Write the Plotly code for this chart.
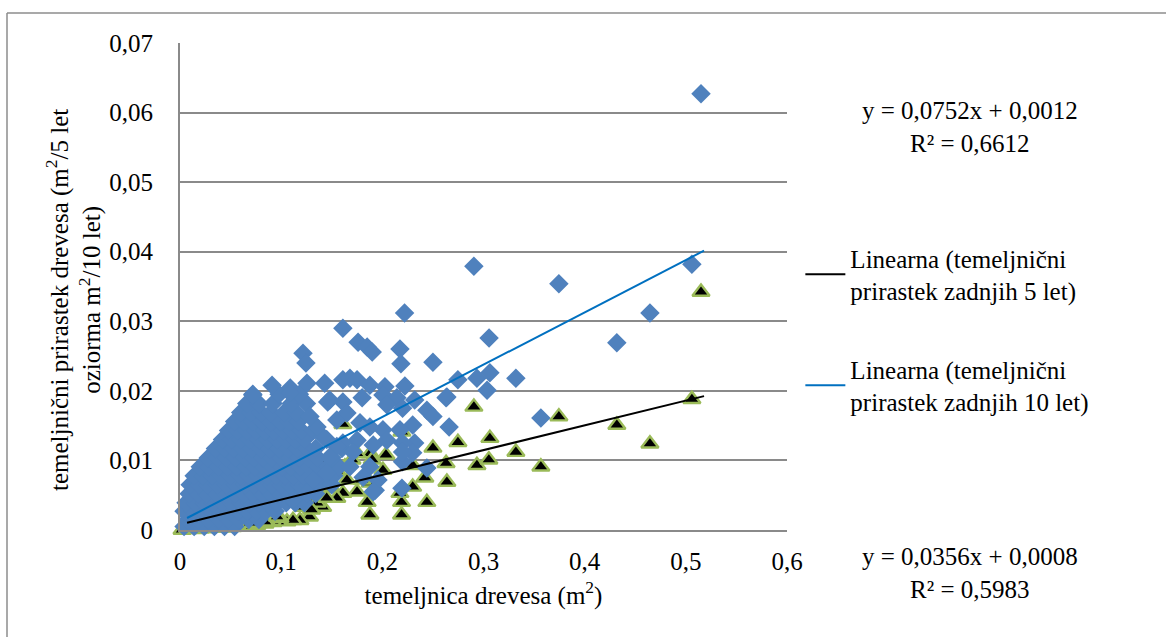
import plotly.graph_objects as go

# ---------------- data ----------------
# 10-year basal area increment (diamonds): basal area (m2) vs increment
x_10 = [
    # dense core rows
    0.004, 0.014, 0.024, 0.034, 0.044, 0.054,
    0.008, 0.018, 0.028, 0.038, 0.048, 0.058, 0.068, 0.078,
    0.004, 0.013, 0.022, 0.031, 0.040, 0.049, 0.058, 0.067, 0.076, 0.085, 0.094,
    0.006, 0.015, 0.024, 0.033, 0.042, 0.051, 0.060, 0.069, 0.078, 0.087, 0.096, 0.105, 0.114, 0.123,
    0.009, 0.018, 0.027, 0.036, 0.045, 0.054, 0.063, 0.072, 0.081, 0.090, 0.099, 0.108, 0.117, 0.134,
    0.010, 0.019, 0.028, 0.037, 0.046, 0.055, 0.064, 0.073, 0.082, 0.091, 0.100, 0.109, 0.118, 0.127, 0.138, 0.150,
    0.014, 0.023, 0.032, 0.041, 0.050, 0.059, 0.068, 0.077, 0.086, 0.095, 0.104, 0.113, 0.122, 0.138, 0.152,
    0.020, 0.029, 0.038, 0.047, 0.056, 0.065, 0.074, 0.083, 0.092, 0.101, 0.110, 0.119, 0.128, 0.137, 0.146, 0.157,
    0.028, 0.037, 0.046, 0.055, 0.064, 0.073, 0.082, 0.091, 0.100, 0.109, 0.118, 0.127, 0.136, 0.150,
    0.035, 0.044, 0.053, 0.062, 0.071, 0.080, 0.089, 0.098, 0.107, 0.116, 0.125, 0.134, 0.160,
    0.042, 0.051, 0.060, 0.069, 0.078, 0.087, 0.096, 0.105, 0.114, 0.123, 0.145,
    0.048, 0.057, 0.066, 0.075, 0.084, 0.093, 0.102, 0.111, 0.120, 0.132,
    0.054, 0.063, 0.072, 0.081, 0.090, 0.099, 0.108, 0.117,
    0.060, 0.070, 0.080, 0.090, 0.103, 0.115,
    0.066, 0.078, 0.092, 0.110, 0.125,
    0.072, 0.098, 0.118,
    # scattered points
    0.515, 0.2905, 0.3745, 0.506, 0.222, 0.4645, 0.4318, 0.3055, 0.161, 0.176,
    0.185, 0.190, 0.2174, 0.2184, 0.250, 0.1216, 0.1245, 0.2747, 0.3063, 0.2935,
    0.3035, 0.332, 0.3567, 0.091, 0.109, 0.1087, 0.1255, 0.143, 0.161, 0.168,
    0.175, 0.1877, 0.2026, 0.2223, 0.148, 0.161, 0.180, 0.2006, 0.2144, 0.232,
    0.263, 0.244, 0.250, 0.266, 0.230, 0.2174, 0.2006, 0.1877, 0.1779, 0.2045,
    0.220, 0.232, 0.220, 0.2045, 0.191, 0.175, 0.161, 0.220, 0.230, 0.244,
    0.2194, 0.193, 0.1877, 0.171, 0.155, 0.1413, 0.1354, 0.1285, 0.155, 0.165,
    0.148, 0.145, 0.1314, 0.1255, 0.1117, 0.168, 0.181, 0.1957, 0.2638, 0.191,
    0.220, 0.072, 0.146,
]
y_10 = [
    0.0005, 0.0005, 0.0005, 0.0005, 0.0005, 0.0005,
    0.0015, 0.0015, 0.0015, 0.0015, 0.0015, 0.0015, 0.0015, 0.0015,
    0.0027, 0.0027, 0.0027, 0.0027, 0.0027, 0.0027, 0.0027, 0.0027, 0.0027, 0.0027, 0.0027,
    0.0039, 0.0039, 0.0039, 0.0039, 0.0039, 0.0039, 0.0039, 0.0039, 0.0039, 0.0039, 0.0039, 0.0039, 0.0039, 0.0039,
    0.0052, 0.0052, 0.0052, 0.0052, 0.0052, 0.0052, 0.0052, 0.0052, 0.0052, 0.0052, 0.0052, 0.0052, 0.0052, 0.0052,
    0.0065, 0.0065, 0.0065, 0.0065, 0.0065, 0.0065, 0.0065, 0.0065, 0.0065, 0.0065, 0.0065, 0.0065, 0.0065, 0.0065, 0.0065, 0.0065,
    0.0078, 0.0078, 0.0078, 0.0078, 0.0078, 0.0078, 0.0078, 0.0078, 0.0078, 0.0078, 0.0078, 0.0078, 0.0078, 0.0078, 0.0078,
    0.0091, 0.0091, 0.0091, 0.0091, 0.0091, 0.0091, 0.0091, 0.0091, 0.0091, 0.0091, 0.0091, 0.0091, 0.0091, 0.0091, 0.0091, 0.0091,
    0.0104, 0.0104, 0.0104, 0.0104, 0.0104, 0.0104, 0.0104, 0.0104, 0.0104, 0.0104, 0.0104, 0.0104, 0.0104, 0.0104,
    0.0117, 0.0117, 0.0117, 0.0117, 0.0117, 0.0117, 0.0117, 0.0117, 0.0117, 0.0117, 0.0117, 0.0117, 0.0117,
    0.0130, 0.0130, 0.0130, 0.0130, 0.0130, 0.0130, 0.0130, 0.0130, 0.0130, 0.0130, 0.0130,
    0.0143, 0.0143, 0.0143, 0.0143, 0.0143, 0.0143, 0.0143, 0.0143, 0.0143, 0.0143,
    0.0156, 0.0156, 0.0156, 0.0156, 0.0156, 0.0156, 0.0156, 0.0156,
    0.0169, 0.0169, 0.0169, 0.0169, 0.0169, 0.0169,
    0.0182, 0.0182, 0.0182, 0.0182, 0.0182,
    0.0195, 0.0195, 0.0195,
    0.0627, 0.0379, 0.0354, 0.0382, 0.0312, 0.0312, 0.0269, 0.0276, 0.0290, 0.0270,
    0.0263, 0.0256, 0.0260, 0.0239, 0.0241, 0.0254, 0.0240, 0.0216, 0.0226, 0.0218,
    0.0201, 0.0218, 0.0161, 0.0208, 0.0204, 0.0197, 0.0211, 0.0211, 0.0216, 0.0218,
    0.0216, 0.0208, 0.0206, 0.0207, 0.0187, 0.0184, 0.0190, 0.0194, 0.0190, 0.0187,
    0.0190, 0.0172, 0.0163, 0.0148, 0.0151, 0.0144, 0.0144, 0.0148, 0.0154, 0.0180,
    0.0175, 0.0125, 0.0125, 0.0129, 0.0122, 0.0129, 0.0125, 0.0098, 0.0111, 0.0089,
    0.0060, 0.0057, 0.0091, 0.0112, 0.0120, 0.0134, 0.0148, 0.0163, 0.0158, 0.0168,
    0.0105, 0.0082, 0.0072, 0.0053, 0.0043, 0.0091, 0.0076, 0.0072, 0.0191, 0.0055,
    0.0112, 0.0194, 0.0184,
]

# 5-year basal area increment (triangles)
x_5 = [
    0.002, 0.008, 0.014, 0.020, 0.028, 0.036, 0.044, 0.052, 0.060, 0.068,
    0.076, 0.084, 0.092, 0.100, 0.030, 0.050, 0.070, 0.090, 0.110, 0.115,
    0.120, 0.130, 0.135, 0.150, 0.145, 0.155,
    0.515, 0.506, 0.4318, 0.4645, 0.2905, 0.3745, 0.3063, 0.2935, 0.3053, 0.332,
    0.3567, 0.2747, 0.250, 0.263, 0.2036, 0.2194, 0.161, 0.230, 0.242, 0.2638,
    0.244, 0.219, 0.219, 0.1877, 0.2006, 0.230, 0.165, 0.185, 0.175, 0.141,
    0.128, 0.1186, 0.1057, 0.188, 0.175, 0.163, 0.188, 0.161, 0.1117, 0.0988,
    0.084, 0.069, 0.056, 0.040, 0.023, 0.170, 0.190, 0.180, 0.1354, 0.155,
    0.1215, 0.096, 0.130, 0.145, 0.2174, 0.074,
]
y_5 = [
    0.0000, 0.0001, 0.0001, 0.0002, 0.0002, 0.0003, 0.0003, 0.0004, 0.0005, 0.0006,
    0.0007, 0.0009, 0.0011, 0.0013, 0.0015, 0.0020, 0.0030, 0.0040, 0.0055, 0.0090,
    0.0070, 0.0085, 0.0045, 0.0060, 0.0100, 0.0085,
    0.0342, 0.0188, 0.0151, 0.0124, 0.0177, 0.0163, 0.0132, 0.0093, 0.0101, 0.0112,
    0.0091, 0.0126, 0.0118, 0.0096, 0.0108, 0.0141, 0.0152, 0.0093, 0.0075, 0.0069,
    0.0040, 0.0040, 0.0022, 0.0022, 0.0086, 0.0062, 0.0072, 0.0040, 0.0055, 0.0033,
    0.0019, 0.0014, 0.0012, 0.0110, 0.0110, 0.0091, 0.0068, 0.0053, 0.0014, 0.0017,
    0.0012, 0.0010, 0.0007, 0.0004, 0.0004, 0.0101, 0.0101, 0.0072, 0.0039, 0.0046,
    0.0033, 0.0019, 0.0029, 0.0046, 0.0053, 0.0010,
]

# Linear trend lines (from the equations shown on the chart)
trend_x_range = [0.007, 0.518]
slope_5, icept_5, r2_5 = 0.0356, 0.0008, "0,5983"
slope_10, icept_10, r2_10 = 0.0752, 0.0012, "0,6612"

x_ticks = [0, 0.1, 0.2, 0.3, 0.4, 0.5, 0.6]
x_ticktext = ["0", "0,1", "0,2", "0,3", "0,4", "0,5", "0,6"]
y_ticks = [0, 0.01, 0.02, 0.03, 0.04, 0.05, 0.06, 0.07]
y_ticktext = ["0", "0,01", "0,02", "0,03", "0,04", "0,05", "0,06", "0,07"]

# ---------------- figure ----------------
FONT = "Liberation Serif"
FS = 25
GRID = "#8a8a8a"
TXT = dict(family=FONT, size=FS, color="black")

fig = go.Figure()

fig.add_trace(go.Scatter(
    x=x_5, y=y_5, mode="markers", showlegend=False,
    name="temeljnični prirastek zadnjih 5 let",
    marker=dict(symbol="triangle-up", size=15, color="black",
                line=dict(color="#9BBB59", width=2.4)),
    cliponaxis=False,
))
fig.add_trace(go.Scatter(
    x=x_10, y=y_10, mode="markers", showlegend=False,
    name="temeljnični prirastek zadnjih 10 let",
    marker=dict(symbol="diamond", size=15, color="#4F81BD", line=dict(width=0)),
    cliponaxis=False,
))

tx = trend_x_range
fig.add_trace(go.Scatter(
    x=tx, y=[slope_5 * v + icept_5 for v in tx], mode="lines",
    name="Linearna (temeljnični<br>prirastek zadnjih 5 let)",
    line=dict(color="black", width=2), legendgroup="a",
))
fig.add_trace(go.Scatter(
    x=tx, y=[slope_10 * v + icept_10 for v in tx], mode="lines",
    name="Linearna (temeljnični<br>prirastek zadnjih 10 let)",
    line=dict(color="#0070C0", width=2), legendgroup="b",
))

L, R, T, B = 180, 1166 - 787, 43, 637 - 530
PW, PH = 607, 487
fig.update_layout(
    width=1166, height=637,
    margin=dict(l=L, r=R, t=T, b=B),
    paper_bgcolor="white", plot_bgcolor="white",
    font=TXT,
    showlegend=True,
    legend=dict(x=1.022, y=0.605, xanchor="left", yanchor="top",
                font=TXT, bgcolor="rgba(0,0,0,0)", tracegroupgap=43,
                itemwidth=40),
    xaxis=dict(range=[0, 0.6], tickvals=x_ticks, ticktext=x_ticktext,
               showgrid=False, zeroline=False, showline=True,
               linecolor=GRID, linewidth=2, ticks="",
               tickfont=TXT, ticklabelstandoff=8,
               title=dict(text="temeljnica drevesa (m<sup>2</sup>)",
                          font=TXT, standoff=12)),
    yaxis=dict(range=[0, 0.07], tickvals=y_ticks, ticktext=y_ticktext,
               showgrid=True, gridcolor=GRID, gridwidth=2, zeroline=False,
               showline=True, linecolor=GRID, linewidth=2, ticks="",
               tickfont=TXT, ticklabelstandoff=20),
    shapes=[
        dict(type="line", xref="paper", yref="paper",
             x0=(7 - L) / PW, x1=(1170 - L) / PW,
             y0=(530 - 13) / PH, y1=(530 - 13) / PH,
             line=dict(color="#8c8c8c", width=1.5)),
        dict(type="line", xref="paper", yref="paper",
             x0=(7 - L) / PW, x1=(7 - L) / PW,
             y0=(530 - 13) / PH, y1=(530 - 640) / PH,
             line=dict(color="#8c8c8c", width=1.5)),
    ],
    annotations=[
        dict(xref="paper", yref="paper", x=(73 - L) / PW, y=(530 - 300) / PH,
             text="temeljnični prirastek drevesa (m<sup>2</sup>/5 let<br>oziorma m<sup>2</sup>/10 let)",
             textangle=-90, showarrow=False, xanchor="center", yanchor="middle",
             align="center", font=TXT),
        dict(xref="paper", yref="paper", x=(970 - L) / PW, y=(530 - 127) / PH,
             text=f"y = 0,0752x + 0,0012<br>R² = {r2_10}", showarrow=False,
             xanchor="center", yanchor="middle", align="center", font=TXT),
        dict(xref="paper", yref="paper", x=(970 - L) / PW, y=(530 - 573) / PH,
             text=f"y = 0,0356x + 0,0008<br>R² = {r2_5}", showarrow=False,
             xanchor="center", yanchor="middle", align="center", font=TXT),
    ],
)

fig.write_html("out.html")
